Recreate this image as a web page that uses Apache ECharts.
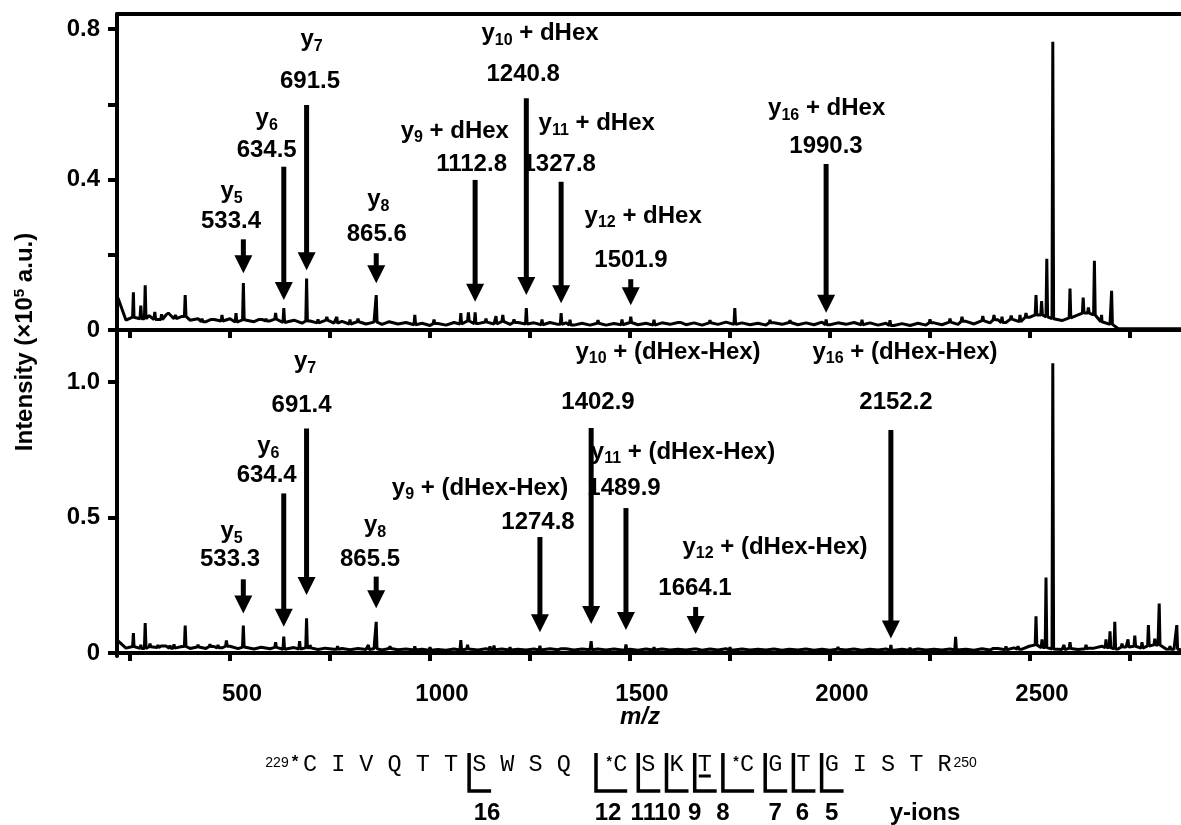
<!DOCTYPE html>
<html><head><meta charset="utf-8">
<script src="https://cdn.jsdelivr.net/npm/echarts@6/dist/echarts.min.js"></script>
<style>html,body{margin:0;padding:0;background:#fff}#c{width:1181px;height:825px}</style>
</head><body><div id="c"></div>
<script>
// ---------- DATA ----------
// baseline noise read every 20 m/z units starting at m/z 220
const noiseStartMz = 220, noiseStepMz = 20;
const topNoise = [
0.085,0.026,0.034,0.030,0.038,0.028,0.040,0.030,0.036,0.026,
0.030,0.022,0.028,0.024,0.030,0.021,0.027,0.022,0.028,0.024,
0.029,0.020,0.026,0.018,0.024,0.019,0.026,0.018,0.023,0.016,
0.022,0.016,0.021,0.015,0.022,0.016,0.020,0.014,0.018,0.012,
0.017,0.013,0.020,0.016,0.024,0.017,0.021,0.016,0.023,0.015,
0.020,0.016,0.019,0.014,0.020,0.015,0.019,0.013,0.018,0.013,
0.018,0.013,0.017,0.014,0.020,0.014,0.018,0.013,0.019,0.015,
0.020,0.014,0.019,0.013,0.019,0.015,0.021,0.015,0.019,0.014,
0.018,0.013,0.019,0.015,0.020,0.014,0.019,0.014,0.021,0.014,
0.019,0.015,0.020,0.014,0.019,0.013,0.018,0.012,0.017,0.012,
0.018,0.013,0.019,0.014,0.021,0.015,0.023,0.016,0.025,0.019,
0.027,0.020,0.029,0.022,0.034,0.040,0.035,0.030,0.025,0.032,
0.040,0.045,0.040,0.022,0.015,0.004,0.003,0.003,0.003,0.003,
0.003,0.003,0.003,0.003
];
const topPeaks = [
[258.5,0.100],[277,0.065],[288,0.119],[300,0.040],[312,0.048],[329,0.042],[346,0.045],[364,0.040],[388,0.093],
[430,0.030],[455,0.032],[480,0.040],[515,0.045],[533.4,0.125],[575,0.030],[590,0.030],[614,0.045],[634.5,0.058],
[691.5,0.137],[720,0.028],[742,0.035],[767,0.035],[800,0.028],[820,0.030],[865.6,0.093],[900,0.027],[962,0.040],
[1010,0.028],[1077,0.045],[1096,0.047],[1112.8,0.047],[1140,0.030],[1165,0.037],[1182,0.040],[1210,0.028],
[1240.8,0.058],[1280,0.028],[1327.8,0.045],[1350,0.027],[1420,0.026],[1480,0.028],[1501.9,0.035],[1560,0.027],
[1628,0.025],[1700,0.026],[1762,0.058],[1850,0.027],[1900,0.026],[1990.3,0.028],[2080,0.027],[2150,0.026],
[2250,0.028],[2300,0.030],[2330,0.035],[2382,0.037],[2410,0.040],[2430,0.035],[2453,0.038],[2475,0.040],
[2490,0.045],[2515,0.093],[2529,0.077],[2542,0.189],[2557,0.766],[2600,0.110],[2633,0.086],[2646,0.060],
[2661,0.184],[2679,0.040],[2704,0.104]
];
const botNoise = [
0.045,0.018,0.024,0.017,0.023,0.020,0.026,0.018,0.024,0.017,
0.022,0.017,0.024,0.019,0.025,0.016,0.022,0.015,0.021,0.016,
0.021,0.014,0.020,0.015,0.019,0.013,0.018,0.014,0.017,0.012,
0.017,0.013,0.016,0.011,0.017,0.012,0.015,0.011,0.014,0.010,
0.013,0.010,0.015,0.011,0.015,0.011,0.016,0.012,0.015,0.011,
0.014,0.011,0.015,0.011,0.016,0.012,0.016,0.011,0.015,0.012,
0.015,0.011,0.015,0.011,0.014,0.010,0.015,0.011,0.015,0.011,
0.014,0.011,0.015,0.010,0.015,0.011,0.016,0.011,0.015,0.011,
0.014,0.011,0.015,0.010,0.014,0.011,0.015,0.010,0.014,0.010,
0.014,0.011,0.015,0.010,0.014,0.011,0.015,0.010,0.014,0.010,
0.015,0.011,0.014,0.011,0.015,0.011,0.014,0.010,0.016,0.011,
0.017,0.012,0.019,0.014,0.025,0.030,0.020,0.015,0.013,0.017,
0.013,0.016,0.018,0.025,0.020,0.015,0.022,0.025,0.018,0.026,
0.030,0.015,0.014,0.012
];
const botPeaks = [
[258.5,0.074],[277,0.030],[288,0.111],[300,0.035],[320,0.030],[330,0.025],[350,0.028],[360,0.032],[388,0.101],
[420,0.030],[450,0.032],[470,0.030],[491,0.046],[533.3,0.101],[580,0.028],[614,0.040],[634.4,0.061],[674,0.044],
[691.4,0.128],[700,0.030],[740,0.025],[769,0.025],[846,0.030],[865.5,0.115],[900,0.025],[962,0.025],[1000,0.022],
[1077,0.048],[1094,0.030],[1150,0.025],[1160,0.028],[1200,0.022],[1274.8,0.027],[1330,0.020],[1402.9,0.044],
[1489.9,0.032],[1560,0.022],[1664.1,0.022],[1750,0.022],[1900,0.020],[2020,0.022],[2152.2,0.030],[2200,0.020],
[2314,0.060],[2410,0.022],[2440,0.025],[2470,0.025],[2500,0.030],[2515,0.136],[2530,0.050],[2540,0.279],
[2557,1.069],[2585,0.030],[2600,0.040],[2640,0.030],[2650,0.025],[2690,0.050],[2700,0.080],[2712,0.115],
[2730,0.035],[2745,0.050],[2762,0.064],[2780,0.040],[2796,0.103],[2812,0.053],[2823,0.183],[2850,0.025],
[2867,0.103]
];

// axis ticks / labels
const xTicks = [250,500,750,1000,1250,1500,1750,2000,2250,2500,2750];
const xTickLabels = [500,1000,1500,2000,2500];
const topYTicks = [0,0.2,0.4,0.6,0.8];
const topYTickLabels = [0,0.4,0.8];
const botYTicks = [0,0.5,1.0];
const botYTickLabels = [0,0.5,1.0];

// annotated ions, top panel (+ dHex)
const topIonNo = ['5','6','7','8','9','10','11','12','16'];
const topIonSuffix = ['','','','',' + dHex',' + dHex',' + dHex',' + dHex',' + dHex'];
const topIonMass = ['533.4','634.5','691.5','865.6','1112.8','1240.8','1327.8','1501.9','1990.3'];
const topIonMz = [533.4,634.5,691.5,865.6,1112.8,1240.8,1327.8,1501.9,1990.3];
// annotated ions, bottom panel (+ (dHex-Hex))
const botIonNo = ['5','6','7','8','9','10','11','12','16'];
const botIonSuffix = ['','','','',' + (dHex-Hex)',' + (dHex-Hex)',' + (dHex-Hex)',' + (dHex-Hex)',' + (dHex-Hex)'];
const botIonMass = ['533.3','634.4','691.4','865.5','1274.8','1402.9','1489.9','1664.1','2152.2'];
const botIonMz = [533.3,634.4,691.4,865.5,1274.8,1402.9,1489.9,1664.1,2152.2];

// peptide
const residues = ['C','I','V','Q','T','T','S','W','S','Q','C','S','K','T','C','G','T','G','I','S','T','R'];
const modifiedResidues = [0,10,14];
const underlinedResidues = [13];
const yIonBreaks = [16,12,11,10,9,8,7,6,5];
const seqFirstNo = '229', seqLastNo = '250';

// ---------- LAYOUT (annotation placement, in axis units) ----------
const topArrowFrom = [0.241,0.434,0.598,0.204,0.399,0.616,0.394,0.135,0.441];
const topArrowTo   = [0.151,0.080,0.159,0.124,0.075,0.093,0.071,0.066,0.046];
const topNamePos = [[504,0.368],[591.7,0.563],[704,0.773],[870.8,0.346],[1062,0.529],[1275,0.789],[1416.7,0.549],[1533,0.303],[1991.7,0.589]];
const topMassPos = [[502.5,0.289],[591.7,0.478],[700,0.660],[866.8,0.253],[1104,0.439],[1233,0.680],[1323,0.439],[1502.5,0.186],[1990,0.487]];
const botArrowFrom = [0.272,0.589,0.829,0.282,0.428,0.830,0.535,0.170,0.823];
const botArrowTo   = [0.146,0.097,0.214,0.165,0.077,0.107,0.085,0.070,0.054];
const botNamePos = [[504,0.448],[595.7,0.761],[687.5,1.075],[862.5,0.472],[1125,0.609],[1595,1.111],[1632.5,0.742],[1862.5,0.391],[2187.5,1.111]];
const botMassPos = [[500,0.346],[591.7,0.657],[679,0.915],[850,0.346],[1270,0.483],[1420,0.926],[1485,0.609],[1662.5,0.240],[2165,0.926]];

const seqCols = [0,2,4,6,8,10,12,14,16,18,22,24,26,28,31,33,35,37,39,41,43,45];
const breakLabelShift = [18,12,5,1,0,0,10,9,10];

// ---------- BUILD ----------
const FF = '"Liberation Sans", Arial, Helvetica, sans-serif';
const BOLD24 = 'bold 24px ' + FF;

function buildSpectrum(noise, peaks) {
  const pts = noise.map((v, i) => [noiseStartMz + i * noiseStepMz, v]);
  peaks.forEach(p => {
    const k = Math.min(noise.length - 1, Math.max(0, Math.round((p[0] - noiseStartMz) / noiseStepMz)));
    const b = noise[k];
    pts.push([p[0] - 2, b], [p[0], p[1]], [p[0] + 2, b]);
  });
  pts.sort((a, b) => a[0] - b[0]);
  return pts;
}

const RICH = {
  b: {fontSize: 24, fontWeight: 'bold', fontFamily: FF, lineHeight: 30, fill: '#000'},
  s: {fontSize: 16, fontWeight: 'bold', fontFamily: FF, lineHeight: 12, verticalAlign: 'bottom', fill: '#000'}
};
const HEAD_W = 18, HEAD_H = 18;

function annotSeries(ionNo, suffix, masses, mzs, from, to, namePos, massPos, gi) {
  return {
    type: 'custom', xAxisIndex: gi === 0 ? 0 : 2, yAxisIndex: gi, silent: true, clip: false, z: 10,
    data: mzs.map((m, i) => [m, to[i]]),
    renderItem: function (params, api) {
      const i = params.dataIndex;
      const a = api.coord([mzs[i], from[i]]);
      const t = api.coord([mzs[i], to[i]]);
      const np = api.coord(namePos[i]);
      const mp = api.coord(massPos[i]);
      return {
        type: 'group', children: [
          {type: 'line', shape: {x1: a[0], y1: a[1], x2: t[0], y2: t[1] - HEAD_H + 2}, style: {stroke: '#000', lineWidth: 5}},
          {type: 'polygon', shape: {points: [[t[0] - HEAD_W / 2, t[1] - HEAD_H], [t[0] + HEAD_W / 2, t[1] - HEAD_H], [t[0], t[1]]]}, style: {fill: '#000'}},
          {type: 'text', x: np[0], y: np[1], style: {text: '{b|y}{s|' + ionNo[i] + '}{b|' + suffix[i] + '}', rich: RICH, align: 'center', verticalAlign: 'middle', fill: '#000'}},
          {type: 'text', x: mp[0], y: mp[1], style: {text: masses[i], font: BOLD24, align: 'center', verticalAlign: 'middle', fill: '#000'}}
        ]
      };
    }
  };
}

// peptide sequence graphics
const SEQ_X0 = 310, SEQ_CW = 14.1, SEQ_Y = 765;
const colX = c => SEQ_X0 + c * SEQ_CW;
const seqGraphics = [];
residues.forEach((r, i) => {
  seqGraphics.push({type: 'text', x: colX(seqCols[i]), y: SEQ_Y, style: {text: r, font: '23.5px "Liberation Mono", "Courier New", monospace', fill: '#000', align: 'center', verticalAlign: 'middle'}});
  if (modifiedResidues.indexOf(i) >= 0) {
    const ax = i === 0 ? colX(seqCols[i]) - 15 : colX(seqCols[i] - 1) + 3;
    seqGraphics.push({type: 'text', x: ax, y: 762, style: {text: '*', font: (i === 0 ? 'bold 17px ' : 'bold 14px ') + FF, fill: '#000', align: 'center', verticalAlign: 'middle'}});
  }
  if (underlinedResidues.indexOf(i) >= 0) {
    const cx = colX(seqCols[i]);
    seqGraphics.push({type: 'line', shape: {x1: cx - 6, y1: 776, x2: cx + 6, y2: 776}, style: {stroke: '#000', lineWidth: 3}});
  }
});
seqGraphics.push({type: 'text', x: colX(seqCols[0]) - 33, y: 763, style: {text: seqFirstNo, font: '14px ' + FF, fill: '#000', align: 'center', verticalAlign: 'middle'}});
seqGraphics.push({type: 'text', x: colX(seqCols[residues.length - 1]) + 9, y: 763, style: {text: seqLastNo, font: '14px ' + FF, fill: '#000', align: 'left', verticalAlign: 'middle'}});
yIonBreaks.forEach((n, k) => {
  const r = residues.length - n;
  const prevCol = seqCols[r] - 1 - (modifiedResidues.indexOf(r) >= 0 ? 1 : 0);
  const bx = colX(prevCol) + 4;
  const ex = Math.max(colX(seqCols[r]) + 7, bx + 22);
  seqGraphics.push({type: 'polyline', shape: {points: [[bx, 753], [bx, 791], [ex, 791]]}, style: {stroke: '#000', lineWidth: 3.5, fill: null}});
  seqGraphics.push({type: 'text', x: bx + breakLabelShift[k], y: 813, style: {text: String(n), font: BOLD24, fill: '#000', align: 'center', verticalAlign: 'middle'}});
});
seqGraphics.push({type: 'text', x: 925, y: 813, style: {text: 'y-ions', font: BOLD24, fill: '#000', align: 'center', verticalAlign: 'middle'}});

const chart = echarts.init(document.getElementById('c'), null, {renderer: 'canvas'});
const axisLineStyle = {color: '#000', width: 4};
const yFmt = v => (v === 0 ? '0' : v.toFixed(1));

chart.setOption({
  animation: false,
  backgroundColor: '#fff',
  grid: [
    {left: 117, top: 14, width: 1064, height: 319},
    {left: 117, top: 333, width: 1064, height: 323}
  ],
  xAxis: [
    {gridIndex: 0, type: 'value', min: 217.5, max: 2877.5, position: 'bottom',
     axisLine: {lineStyle: axisLineStyle}, axisTick: {customValues: xTicks, length: 8, lineStyle: {width: 4, color: '#000'}},
     axisLabel: {show: false}, splitLine: {show: false}},
    {gridIndex: 0, type: 'value', min: 217.5, max: 2877.5, position: 'top',
     axisLine: {lineStyle: axisLineStyle}, axisTick: {show: false}, axisLabel: {show: false}, splitLine: {show: false}},
    {gridIndex: 1, type: 'value', min: 217.5, max: 2877.5, position: 'bottom',
     axisLine: {lineStyle: axisLineStyle}, axisTick: {customValues: xTicks, length: 8, lineStyle: {width: 4, color: '#000'}},
     axisLabel: {customValues: xTickLabels, formatter: v => String(v), fontSize: 24, fontWeight: 'bold', fontFamily: FF, color: '#000', margin: 26, padding: [0, 0, 0, 24]},
     splitLine: {show: false}}
  ],
  yAxis: [
    {gridIndex: 0, type: 'value', min: -0.008, max: 0.84,
     axisLine: {show: true, lineStyle: axisLineStyle}, axisTick: {show: true, customValues: topYTicks, length: 9, lineStyle: {width: 4, color: '#000'}},
     axisLabel: {customValues: topYTickLabels, formatter: yFmt, fontSize: 24, fontWeight: 'bold', fontFamily: FF, color: '#000', margin: 17},
     splitLine: {show: false}},
    {gridIndex: 1, type: 'value', min: -0.011, max: 1.181,
     axisLine: {show: true, lineStyle: axisLineStyle}, axisTick: {show: true, customValues: botYTicks, length: 9, lineStyle: {width: 4, color: '#000'}},
     axisLabel: {customValues: botYTickLabels, formatter: yFmt, fontSize: 24, fontWeight: 'bold', fontFamily: FF, color: '#000', margin: 17},
     splitLine: {show: false}}
  ],
  series: [
    {type: 'line', xAxisIndex: 0, yAxisIndex: 0, data: buildSpectrum(topNoise, topPeaks), showSymbol: false, symbol: 'none',
     lineStyle: {color: '#000', width: 3, join: 'bevel'}, clip: true, silent: true},
    {type: 'line', xAxisIndex: 2, yAxisIndex: 1, data: buildSpectrum(botNoise, botPeaks), showSymbol: false, symbol: 'none',
     lineStyle: {color: '#000', width: 3, join: 'bevel'}, clip: true, silent: true},
    annotSeries(topIonNo, topIonSuffix, topIonMass, topIonMz, topArrowFrom, topArrowTo, topNamePos, topMassPos, 0),
    annotSeries(botIonNo, botIonSuffix, botIonMass, botIonMz, botArrowFrom, botArrowTo, botNamePos, botMassPos, 1)
  ],
  graphic: [
    {type: 'text', x: 25, y: 342, rotation: Math.PI / 2, style: {
      text: '{b|Intensity (×10}{s|5}{b| a.u.)}', align: 'center', verticalAlign: 'middle', fill: '#000',
      rich: {b: {fontSize: 24, fontWeight: 'bold', fontFamily: FF, lineHeight: 26, fill: '#000'},
             s: {fontSize: 15, fontWeight: 'bold', fontFamily: FF, lineHeight: 14, verticalAlign: 'top', fill: '#000'}}}},
    {type: 'text', x: 640, y: 717, style: {text: 'm/z', font: 'italic bold 24px ' + FF, fill: '#000', align: 'center', verticalAlign: 'middle'}}
  ].concat(seqGraphics)
});
</script>
</body></html>
